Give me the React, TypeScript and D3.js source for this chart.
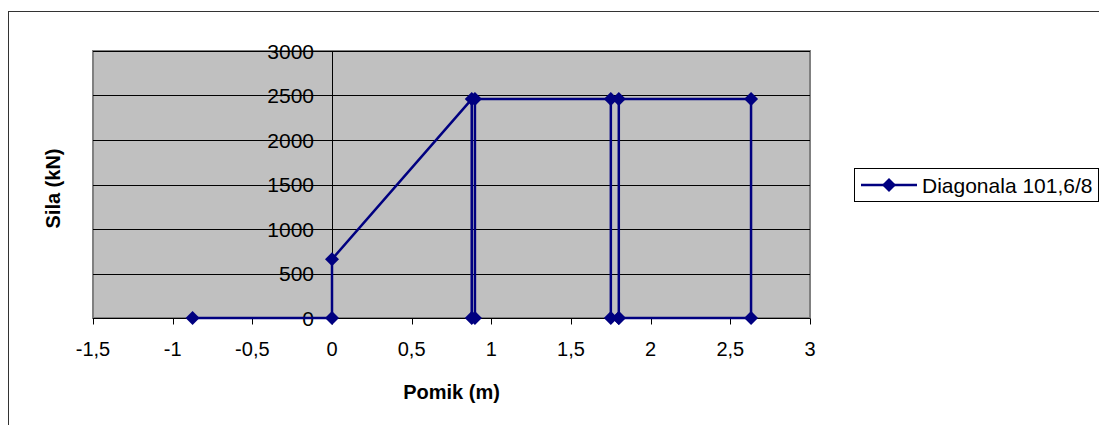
import React, { useEffect, useRef } from "react";
import * as d3 from "d3";

const pomik: number[] = [-0.875, 0, 0, 0.877, 0.877, 0.897, 0.897, 1.75, 1.75, 1.8, 1.8, 2.63, 2.63, 1.8];
const sila: number[] = [0, 0, 660, 2460, 0, 0, 2460, 2460, 0, 0, 2460, 2460, 0, 0];
const xTicks: number[] = [-1.5, -1, -0.5, 0, 0.5, 1, 1.5, 2, 2.5, 3];
const yTicks: number[] = [0, 500, 1000, 1500, 2000, 2500, 3000];
const seriesName = "Diagonala 101,6/8";
const xTitle = "Pomik (m)";
const yTitle = "Sila (kN)";

const W = 1099;
const H = 425;
const FONT = "'Liberation Sans', Arial, sans-serif";
const NAVY = "#000080";

export default function App() {
  const ref = useRef<SVGSVGElement | null>(null);

  useEffect(() => {
    const svg = d3.select(ref.current);
    svg.selectAll("*").remove();

    const left = 93, right = 810, top = 51, bottom = 318;
    const x = d3.scaleLinear().domain([-1.5, 3]).range([left, right]);
    const y = d3.scaleLinear().domain([0, 3000]).range([bottom, top]);

    svg.append("rect").attr("width", W).attr("height", H).attr("fill", "#fff");
    // outer chart border
    svg.append("rect")
      .attr("x", 8.5).attr("y", 11.5).attr("width", W + 20).attr("height", H + 20)
      .attr("fill", "none").attr("stroke", "#333").attr("stroke-width", 1);

    // plot area
    svg.append("rect")
      .attr("x", left).attr("y", top).attr("width", right - left).attr("height", bottom - top)
      .attr("fill", "#c0c0c0").attr("stroke", "#808080").attr("stroke-width", 2);

    // gridlines
    svg.append("g").selectAll("line").data(yTicks.filter(t => t > 0)).join("line")
      .attr("x1", left).attr("x2", right)
      .attr("y1", d => Math.round(y(d)) + 0.5).attr("y2", d => Math.round(y(d)) + 0.5)
      .attr("stroke", "#000").attr("stroke-width", 1);

    // x axis at y=0
    const x0 = Math.round(x(0)) + 0.5;
    const y0 = Math.round(y(0)) + 0.5;
    svg.append("line").attr("x1", left).attr("x2", right).attr("y1", y0).attr("y2", y0)
      .attr("stroke", "#000");
    svg.append("g").selectAll("line").data(xTicks).join("line")
      .attr("x1", d => Math.round(x(d)) + 0.5).attr("x2", d => Math.round(x(d)) + 0.5)
      .attr("y1", y0).attr("y2", y0 + 6).attr("stroke", "#000");
    svg.append("g").selectAll("text").data(xTicks).join("text")
      .attr("x", d => x(d)).attr("y", 356)
      .attr("text-anchor", "middle")
      .attr("font-family", FONT).attr("font-size", 20)
      .text(d => String(d).replace(".", ","));

    // y axis at x=0
    svg.append("line").attr("x1", x0).attr("x2", x0).attr("y1", top).attr("y2", bottom)
      .attr("stroke", "#000");
    svg.append("g").selectAll("line").data(yTicks).join("line")
      .attr("x1", x0 - 6).attr("x2", x0)
      .attr("y1", d => Math.round(y(d)) + 0.5).attr("y2", d => Math.round(y(d)) + 0.5)
      .attr("stroke", "#000");
    svg.append("g").selectAll("text").data(yTicks).join("text")
      .attr("x", 314).attr("y", d => y(d) + 7.5)
      .attr("text-anchor", "end")
      .attr("font-family", FONT).attr("font-size", 21)
      .text(d => String(d));

    // series
    const pts = pomik.map((p, i) => [p, sila[i]] as [number, number]);
    const line = d3.line<[number, number]>().x(d => x(d[0])).y(d => y(d[1]));
    svg.append("path").attr("d", line(pts)).attr("fill", "none")
      .attr("stroke", NAVY).attr("stroke-width", 2.5).attr("stroke-linejoin", "miter");
    const diamond = (cx: number, cy: number, r: number) =>
      `M${cx},${cy - r}L${cx + r},${cy}L${cx},${cy + r}L${cx - r},${cy}Z`;
    svg.append("g").selectAll("path").data(pts).join("path")
      .attr("d", d => diamond(x(d[0]), y(d[1]), 7))
      .attr("fill", NAVY);

    // titles
    svg.append("text").attr("x", (left + right) / 2).attr("y", 399)
      .attr("text-anchor", "middle").attr("font-family", FONT)
      .attr("font-size", 20).attr("font-weight", "bold").text(xTitle);
    svg.append("text")
      .attr("transform", `translate(60,${(top + bottom) / 2 + 4}) rotate(-90)`)
      .attr("text-anchor", "middle").attr("font-family", FONT)
      .attr("font-size", 20).attr("font-weight", "bold").text(yTitle);

    // legend
    svg.append("rect").attr("x", 854.5).attr("y", 168.5).attr("width", 244).attr("height", 33)
      .attr("fill", "#fff").attr("stroke", "#000");
    svg.append("line").attr("x1", 861).attr("x2", 917).attr("y1", 185).attr("y2", 185)
      .attr("stroke", NAVY).attr("stroke-width", 2.5);
    svg.append("path").attr("d", diamond(889, 185, 7)).attr("fill", NAVY);
    svg.append("text").attr("x", 922).attr("y", 192.5)
      .attr("font-family", FONT).attr("font-size", 21).text(seriesName);
  }, []);

  return (
    <div style={{ position: "fixed", left: 0, top: 0 }}>
      <svg ref={ref} width={W} height={H} style={{ display: "block" }} />
    </div>
  );
}
